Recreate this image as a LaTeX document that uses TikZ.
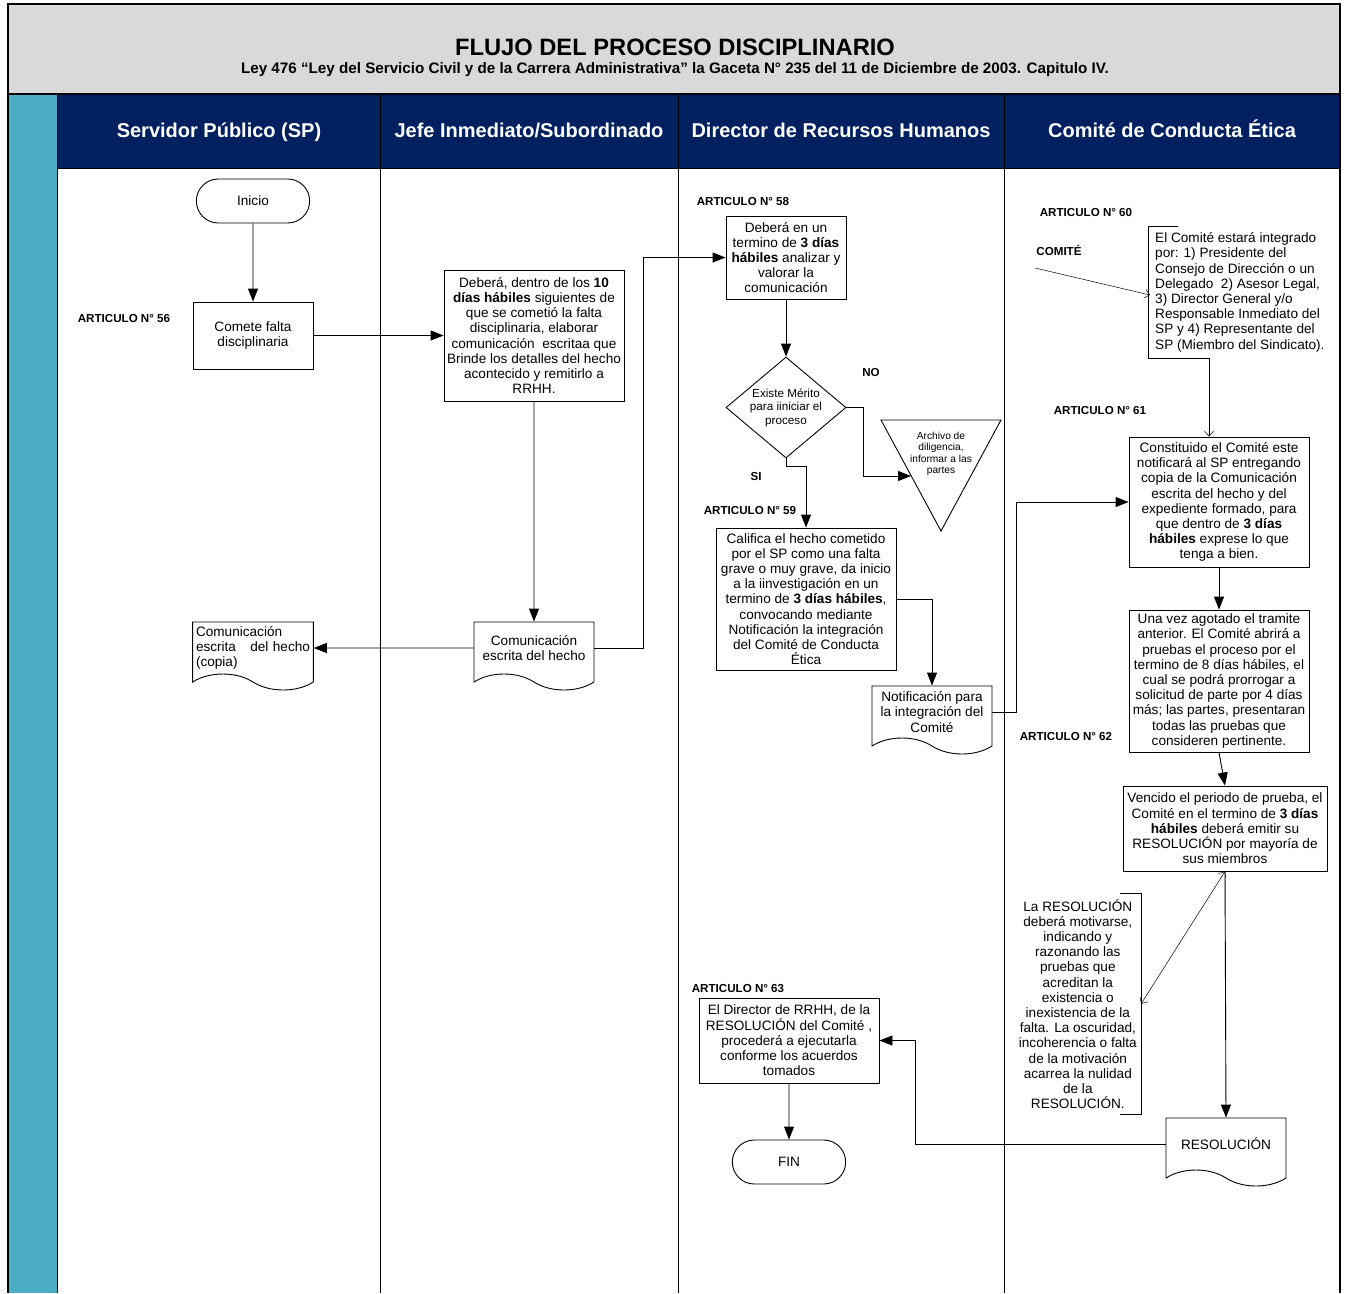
\documentclass[tikz,border=0pt]{standalone}
\usepackage{fontspec}
\setmainfont{Liberation Sans}
\usetikzlibrary{arrows.meta,shapes.geometric,shapes.misc,shapes.symbols}
\definecolor{navyhead}{RGB}{0,32,96}
\definecolor{laneblue}{RGB}{75,172,198}
\definecolor{titlegray}{RGB}{217,217,217}
\tikzset{
  txt/.style={font=\fontsize{13.6}{15.2}\selectfont},
  box/.style={txt, draw, line width=0.9pt, fill=white, align=center, inner sep=2pt},
  doc/.style={txt, tape, tape bend top=none, tape bend bottom=out and in, tape bend height=16pt,
    draw, line width=0.9pt, fill=white, align=center, minimum width=120pt, minimum height=68pt},
  term/.style={txt, rounded rectangle, draw, line width=0.9pt, minimum width=120pt, minimum height=44pt},
  flow/.style={line width=0.9pt, -{Triangle[length=13pt,width=10pt]}},
  thinflow/.style={line width=0.5pt, -{Straight Barb[length=5pt,width=9pt]}},
  thinboth/.style={line width=0.5pt, {Straight Barb[length=5pt,width=9pt]}-{Straight Barb[length=5pt,width=9pt]}},
  lbl/.style={font=\bfseries\fontsize{11.6}{13}\selectfont},
  lanehead/.style={text=white, text height=15pt, text depth=4pt, font=\bfseries\fontsize{20}{24}\selectfont}
}

\begin{document}
\begin{tikzpicture}[x=1pt, y=-1pt]
		%%%%% START %%%%%
		\useasboundingbox (0,0) rectangle (1346,1293);
		
		\fill[titlegray] (8,4) rectangle (1340,94);
		\fill[laneblue] (8,94) rectangle (57,1293);
		\fill[navyhead] (57,94) rectangle (1340,168);
		\draw[line width=1.2pt] (8,1293) -- (8,4) -- (1340,4) -- (1340,1293);
		\draw[line width=1.2pt] (8,94) -- (1340,94);
		\draw[line width=1pt] (57,168) -- (1340,168);
		\foreach \x in {57,380,678,1004}
			\draw[line width=0.9pt] (\x,94) -- (\x,1293);
		
		\node[font=\bfseries\fontsize{23.7}{27}\selectfont] (titulo) at (675,47) {FLUJO DEL PROCESO DISCIPLINARIO};
		\node[font=\bfseries\fontsize{15.2}{17}\selectfont] (ley) at (675,70) {Ley 476 “Ley del Servicio Civil y de la Carrera Administrativa” la Gaceta N° 235 del 11 de Diciembre de 2003. Capitulo IV.};
		
		\node[lanehead] (hsp) at (219,132) {Servidor Público (SP)};
		\node[lanehead] (hjefe) at (529,132) {Jefe Inmediato/Subordinado};
		\node[lanehead] (hrrhh) at (841,132) {Director de Recursos Humanos};
		\node[lanehead] (hcomite) at (1172,132) {Comité de Conducta Ética};
		
		% servidor publico
		\node[term] (inicio) at (253,201) {Inicio};
		\node[lbl] (art56) at (124,319) {ARTICULO N° 56};
		\node[box, minimum width=120pt, minimum height=67pt] (comete) at (253,335.5) {Comete falta\\disciplinaria};
		\node[doc, align=left, text width=114pt] (copia) at (253,648) {Comunicación\\escrita\hfill del hecho\\(copia)};
		
		% jefe
		\node[box, minimum width=180pt, minimum height=131pt] (jefe) at (534,335.5) {Deberá, dentro de los \textbf{10}\\\textbf{días hábiles} siguientes de\\que se cometió la falta\\disciplinaria, elaborar\\comunicación\ \ escritaa que\\Brinde los detalles del hecho\\acontecido y remitirlo a\\RRHH.};
		\node[doc] (comhecho) at (534,648) {Comunicación\\escrita del hecho};
		
		% director rrhh
		\node[lbl] (art58) at (743,202) {ARTICULO N° 58};
		\node[box, minimum width=120pt, minimum height=83pt] (analiza) at (786,257.5) {Deberá en un\\termino de \textbf{3 días}\\\textbf{hábiles} analizar y\\valorar la\\comunicación};
		\node[diamond, draw, line width=0.9pt, aspect=1.2, inner sep=0pt, minimum width=120pt, minimum height=101pt, align=center, font=\fontsize{11.7}{13.5}\selectfont] (merito) at (786,407.5) {Existe Mérito\\para iiniciar el\\proceso};
		\node[lbl] (no) at (871,373) {NO};
		\node[lbl] (si) at (756,476) {SI};
		\draw[line width=0.9pt] (881,420) -- (1001,420) -- (941,531) -- cycle;
		\node[align=center, font=\fontsize{10.2}{11.5}\selectfont] (archivo) at (941,454) {Archivo de\\diligencia,\\informar a las\\partes};
		\coordinate (archivoin) at (911,476);
		\node[lbl] (art59) at (750,510) {ARTICULO N° 59};
		\node[box, minimum width=180pt, minimum height=142pt] (califica) at (806,599) {Califica el hecho cometido\\por el SP como una falta\\grave o muy grave, da inicio\\a la iinvestigación en un\\termino de \textbf{3 días hábiles},\\convocando mediante\\Notificación la integración\\del Comité de Conducta\\Ética};
		\node[doc] (notif) at (932,712) {Notificación para\\la integración del\\Comité};
		\node[lbl] (art63) at (738,989) {ARTICULO N° 63};
		\node[box, minimum width=180pt, minimum height=85pt] (director) at (789,1040.5) {El Director de RRHH, de la\\RESOLUCIÓN del Comité ,\\procederá a ejecutarla\\conforme los acuerdos\\tomados};
		\node[term] (fin) at (789,1162) {FIN};
		
		% comite
		\node[lbl] (art60) at (1086,213) {ARTICULO N° 60};
		\node[lbl] (comite) at (1059,250) {COMITÉ};
		\coordinate (comitefrom) at (1035,268);
		\coordinate (comiteto) at (1150,295);
		\node[txt, anchor=north west, align=left, inner xsep=7pt, inner ysep=6.5pt] (integra) at (1148,226) {El Comité estará integrado\\por: 1) Presidente del\\Consejo de Dirección o un\\Delegado\ \ 2) Asesor Legal,\\3) Director General y/o\\Responsable Inmediato del\\SP y 4) Representante del\\SP (Miembro del Sindicato).};
		\draw[line width=0.9pt] ([xshift=30pt]integra.north west) -- (integra.north west) -- (integra.south west) -- ([xshift=30pt]integra.south west);
		\node[lbl] (art61) at (1100,410) {ARTICULO N° 61};
		\node[box, minimum width=180pt, minimum height=130pt] (constituido) at (1219,502) {Constituido el Comité este\\notificará al SP entregando\\copia de la Comunicación\\escrita del hecho y del\\expediente formado, para\\que dentro de \textbf{3 días}\\\textbf{hábiles} exprese lo que\\tenga a bien.};
		\node[box, minimum width=180pt, minimum height=142pt] (unavez) at (1219,681) {Una vez agotado el tramite\\anterior. El Comité abrirá a\\pruebas el proceso por el\\termino de 8 días hábiles, el\\cual se podrá prorrogar a\\solicitud de parte por 4 días\\más; las partes, presentaran\\todas las pruebas que\\consideren pertinente.};
		\node[lbl] (art62) at (1066,736) {ARTICULO N° 62};
		\node[box, minimum width=204pt, minimum height=85pt] (vencido) at (1225,828.5) {Vencido el periodo de prueba, el\\Comité en el termino de \textbf{3 días}\\\textbf{hábiles} deberá emitir su\\RESOLUCIÓN por mayoría de\\sus miembros};
		\node[txt, anchor=east, align=center, inner xsep=4pt, inner ysep=5.6pt] (motiva) at (1141,1004) {La RESOLUCIÓN\\deberá motivarse,\\indicando y\\razonando las\\pruebas que\\acreditan la\\existencia o\\inexistencia de la\\falta. La oscuridad,\\incoherencia o falta\\de la motivación\\acarrea la nulidad\\de la\\RESOLUCIÓN.};
		\draw[line width=0.9pt] ([xshift=-21pt]motiva.north east) -- (motiva.north east) -- (motiva.south east) -- ([xshift=-21pt]motiva.south east);
		\node[doc] (resol) at (1226,1144) {RESOLUCIÓN};
		
		% conectores
		\draw[flow] (inicio) -- (comete);
		\draw[flow] (comete) -- (jefe);
		\draw[flow] (jefe) -- (comhecho);
		\draw[flow] (comhecho) -- (copia);
		\draw[flow] (comhecho.east) -- ++(49,0) |- (analiza);
		\draw[flow] (analiza) -- (merito);
		\draw[flow] (merito.south) -- ++(0,8) -| (califica);
		\draw[flow] (merito.east) -- ++(17,0) |- (archivoin);
		\draw[flow] (califica.east) -| (notif);
		\draw[flow] (notif.east) -- ++(24,0) |- (constituido);
		\draw[thinflow] (comitefrom) -- (comiteto);
		\draw[thinflow] (integra.south west) -| ([xshift=-10pt]constituido.north);
		\draw[flow] (constituido) -- (unavez);
		\draw[flow] (unavez.south) -- (vencido.north);
		\draw[flow] (vencido.south) -- (resol.north);
		\draw[thinboth] (vencido.south) -- (motiva.east);
		\draw[flow] (resol.west) -- ++(-250,0) |- (director);
		\draw[flow] (director) -- (fin);
		
		%%%%% END %%%%%
\end{tikzpicture}
\end{document}
